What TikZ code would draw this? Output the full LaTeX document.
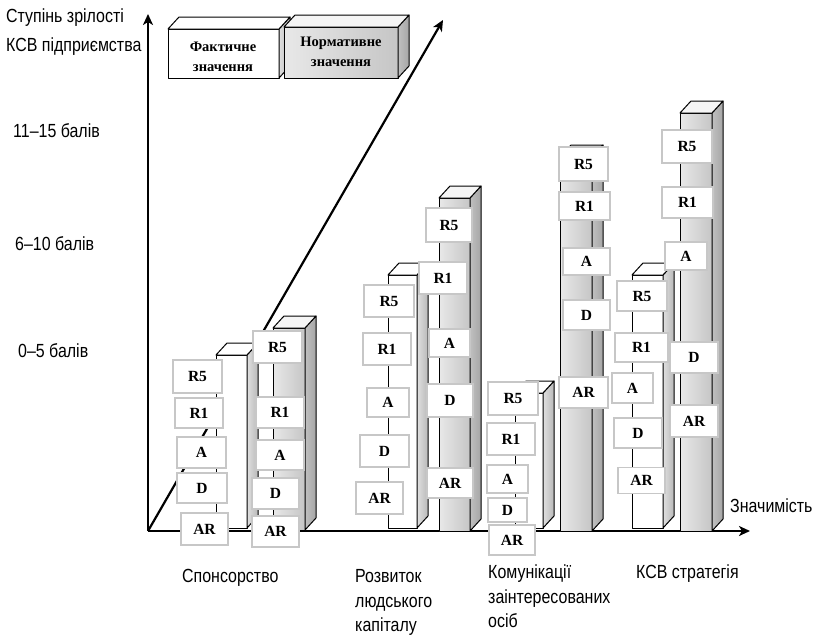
\documentclass[tikz,border=0pt]{standalone}
\usepackage{fontspec}
\setmainfont{Liberation Sans}
\newfontfamily\narrowfont{Liberation Sans}[FakeStretch=0.84]
\newfontfamily\lblfont{Liberation Serif}
\usetikzlibrary{arrows.meta}
\tikzset{
 axis/.style={line width=2.2pt,-{Stealth[length=11pt,width=10pt,inset=3pt]}},
 txt/.style={font=\narrowfont\fontsize{19}{21}\selectfont, inner sep=0pt, anchor=base west},
 lbl/.style={draw=black!22, line width=1.4pt, fill=white, inner sep=0pt, font=\lblfont\bfseries\fontsize{15.5}{15.5}\selectfont},
 legtxt/.style={font=\lblfont\bfseries\fontsize{14.5}{20}\selectfont, align=center, inner sep=0pt},
 edgeln/.style={draw=black, line width=1pt, line join=round},
 wfront/.style={fill=white},
 wside/.style={left color=gray!25, right color=gray!55},
 gfront/.style={left color=gray!18, right color=gray!45},
 gside/.style={left color=gray!50, right color=gray!70},
 topw/.style={fill=white},
 topg/.style={fill=gray!8},
}
\newcommand{\prism}[7]{%
  \path[edgeln,#5] (#1,#3) rectangle (#2,#4);
  \path[edgeln,#6] (#2,#3) -- (#2+11,#3-12) -- (#2+11,#4-12) -- (#2,#4) -- cycle;
  \path[edgeln,#7] (#1,#3) -- (#1+11,#3-12) -- (#2+11,#3-12) -- (#2,#3) -- cycle;
}
\newcommand{\lab}[6]{\node[lbl,minimum width=#4pt,minimum height=#5pt] (#1) at (#2,#3) {#6};}
\begin{document}
\begin{tikzpicture}[x=1pt,y=-1pt]
\useasboundingbox (0,0) rectangle (817,637);
% axes
\coordinate (O) at (148,531);
\coordinate (Ytip) at (148,14);
\coordinate (Xtip) at (750,531);
\coordinate (Ztip) at (443,20);
\draw[axis] (O) -- (Ztip);
\draw[axis] (O) -- (Ytip);
\draw[axis] (O) -- (Xtip);
% legend
\prism{168}{279}{29}{78}{wfront}{wside}{topw}
\prism{284}{398}{27}{78}{gfront}{gside}{topg}
\node[legtxt] (fact) at (223,57) {Фактичне\\значення};
\node[legtxt] (norm) at (341,52) {Нормативне\\значення};
% bars
\prism{216}{247}{355}{528}{wfront}{wside}{topw}
\prism{273}{305}{328}{530}{gfront}{gside}{topg}
\prism{388}{417}{275}{528}{wfront}{wside}{topw}
\prism{439}{470}{198}{531}{gfront}{gside}{topg}
\prism{515}{543}{393}{528}{wfront}{wside}{topw}
\prism{560}{592}{157}{531}{gfront}{gside}{topg}
\prism{632}{663}{275}{528}{wfront}{wside}{topw}
\prism{680}{712}{113}{531}{gfront}{gside}{topg}
% group 1 labels
\lab{aR5}{197.5}{376.5}{49}{33}{R5}
\lab{aR1}{199}{413}{48}{30}{R1}
\lab{aA}{201.5}{452.5}{49}{31}{A}
\lab{aD}{202}{488}{50}{30}{D}
\lab{aAR}{204.5}{529}{47}{32}{AR}
\lab{bR5}{277.5}{347}{49}{32}{R5}
\lab{bR1}{280}{412.5}{48}{31}{R1}
\lab{bA}{280}{455}{48}{30}{A}
\lab{bD}{275.5}{493.5}{47}{31}{D}
\lab{bAR}{275.5}{531.5}{47}{31}{AR}
% group 2
\lab{cR5}{389}{301}{50}{32}{R5}
\lab{cR1}{387}{349}{48}{32}{R1}
\lab{cA}{388}{402.5}{42}{29}{A}
\lab{cD}{384.5}{451}{49}{32}{D}
\lab{cAR}{379.5}{498}{47}{32}{AR}
\lab{dR5}{449}{225}{46}{34}{R5}
\lab{dR1}{443}{278}{48}{32}{R1}
\lab{dA}{449.5}{343}{41}{28}{A}
\lab{dD}{450}{400.5}{46}{33}{D}
\lab{dAR}{450}{483}{46}{30}{AR}
% group 3
\lab{eR5}{513}{398.5}{50}{33}{R5}
\lab{eR1}{511}{439}{48}{32}{R1}
\lab{eA}{507.5}{479}{41}{28}{A}
\lab{eD}{507.5}{510}{39}{24}{D}
\lab{eAR}{512}{540}{46}{30}{AR}
\lab{fR5}{583.5}{164}{49}{34}{R5}
\lab{fR1}{584.5}{206}{51}{28}{R1}
\lab{fA}{586.5}{261.5}{47}{27}{A}
\lab{fD}{586.5}{315}{47}{30}{D}
\lab{fAR}{583.5}{392.5}{49}{31}{AR}
% group 4
\lab{gR5}{642}{296}{50}{30}{R5}
\lab{gR1}{641.5}{347.5}{53}{29}{R1}
\lab{gA}{632.5}{388}{41}{30}{A}
\lab{gD}{638}{433}{48}{30}{D}
\lab{gAR}{641.5}{480.5}{47}{26}{AR}
\lab{hR5}{687}{146.5}{50}{33}{R5}
\lab{hR1}{687.5}{202.5}{51}{31}{R1}
\lab{hA}{686}{256}{42}{28}{A}
\lab{hD}{694}{357.5}{48}{31}{D}
\lab{hAR}{694}{421}{48}{32}{AR}
% texts
\node[txt] (yl1) at (6,22) {Ступінь зрілості};
\node[txt] (yl2) at (6,51) {КСВ підприємства};
\node[txt] (s3) at (13,137) {11–15 балів};
\node[txt] (s2) at (15,250) {6–10 балів};
\node[txt] (s1) at (18,357) {0–5 балів};
\node[txt] (xl) at (730,512) {Значимість};
\node[txt] (c1) at (182,582) {Спонсорство};
\node[txt] (c2a) at (355,582) {Розвиток};
\node[txt] (c2b) at (355,607) {людського};
\node[txt] (c2c) at (355,631) {капіталу};
\node[txt] (c3a) at (488,578) {Комунікації};
\node[txt] (c3b) at (488,603) {заінтересованих};
\node[txt] (c3c) at (488,627) {осіб};
\node[txt] (c4) at (636,578) {КСВ стратегія};
\end{tikzpicture}
\end{document}
